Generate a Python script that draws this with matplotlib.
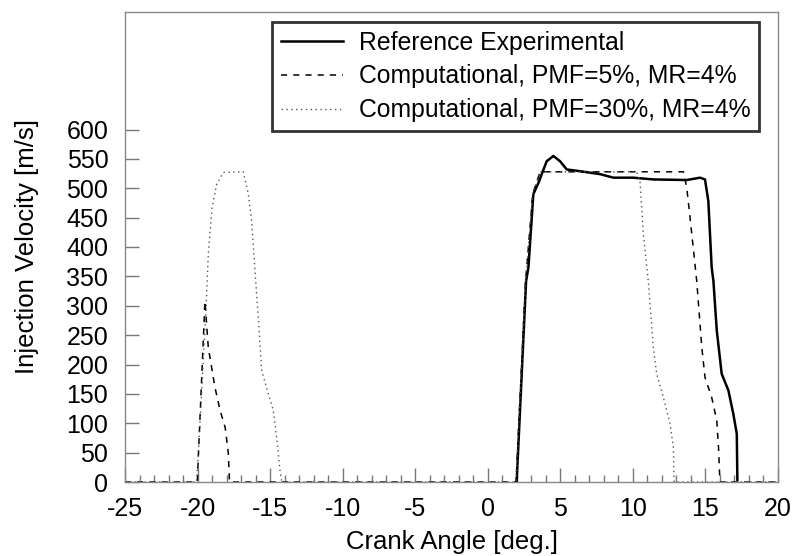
import numpy as np
import matplotlib.pyplot as plt
from matplotlib.ticker import MultipleLocator

plt.rcParams['font.family'] = ['Liberation Sans', 'DejaVu Sans']
plt.rcParams['axes.unicode_minus'] = False

# Reference experimental
exp_x = [-25, 1.99, 2.64, 2.80, 3.14, 3.49, 3.72, 4.06, 4.52, 4.98, 5.44, 6.36, 7.74, 8.66,
         10.03, 11.41, 13.71, 14.63, 14.97, 15.2, 15.43, 15.55, 15.78, 16.12, 16.58, 16.92,
         17.16, 17.2, 20]
exp_y = [np.nan, 0, 342, 365, 490, 509, 524, 546, 555, 546, 532, 529, 524, 518,
         518, 515, 514, 518, 515, 478, 365, 342, 258, 184, 156, 116,
         82, 3, np.nan]

# Computational PMF=5%
c5_x = [-25, -20.02, -19.49, -19.26, -18.8, -18.45, -18.1, -17.88, -17.8, 1.95, 2.6, 3.1,
        3.6, 13.48, 13.71, 13.94, 14.4, 14.75, 14.97, 15.43, 15.78, 15.9, 16.0, 20]
c5_y = [0, 0, 308, 229, 161, 122, 93, 49, 0, 0, 340, 490,
        528, 528, 501, 450, 342, 229, 178, 144, 105, 59, 0, 0]

# Computational PMF=30%
c30_x = [-25, -20.06, -19.7, -19.4, -19.26, -19.0, -18.68, -18.22, -16.85, -16.5, -16.27,
         -16.04, -15.8, -15.58, -15.12, -14.78, -14.55, -14.32, -14.2, 1.95, 2.6, 3.1,
         3.6, 10.26, 10.49, 10.72, 11.06, 11.41, 11.64, 12.1, 12.56, 12.79, 12.84, 20]
c30_y = [0, 0, 161, 303, 388, 467, 507, 527, 528, 490, 444,
         359, 275, 190, 150, 122, 76, 20, 0, 0, 340, 490,
         528, 528, 512, 422, 342, 229, 184, 144, 99, 59, 0, 0]

fig = plt.figure(figsize=(7.96, 5.56), dpi=100)
ax = fig.add_axes([125/796, 1-482/556, 653/796, 470/556])

ax.plot(exp_x, exp_y, color='black', lw=1.8, label='Reference Experimental')
ax.plot(c5_x, c5_y, color='black', lw=1.1, ls=(0, (4, 4)),
        label='Computational, PMF=5%, MR=4%')
ax.plot(c30_x, c30_y, color='#555555', lw=1.0, ls=(0, (1, 2.5)),
        label='Computational, PMF=30%, MR=4%')

ax.set_xlim(-25, 20)
ax.set_ylim(0, 800)
ax.set_xticks(np.arange(-25, 21, 5))
ax.xaxis.set_minor_locator(MultipleLocator(1))
ax.set_yticks(np.arange(0, 601, 50))
ax.tick_params(axis='both', which='major', direction='in', length=10, width=1,
               color='#777777', labelsize=18)
ax.tick_params(axis='y', which='major', pad=12)
ax.tick_params(axis='x', which='major', pad=11)
ax.tick_params(axis='x', which='minor', direction='in', length=5, width=1,
               color='#777777')
for s in ax.spines.values():
    s.set_color('#888888')
    s.set_linewidth(1)

ax.set_xlabel('Crank Angle [deg.]', fontsize=18.5, labelpad=6)
ax.set_ylabel('Injection Velocity [m/s]', fontsize=18.5, labelpad=20)

leg = ax.legend(loc='upper right', bbox_to_anchor=(0.971, 0.979), fontsize=17.8,
                frameon=True, fancybox=False, handlelength=2.5, borderpad=0.35,
                labelspacing=0.4, handletextpad=0.65, borderaxespad=0)
leg.get_frame().set_edgecolor('black')
leg.get_frame().set_linewidth(2)

fig.savefig('out.png', dpi=100)
